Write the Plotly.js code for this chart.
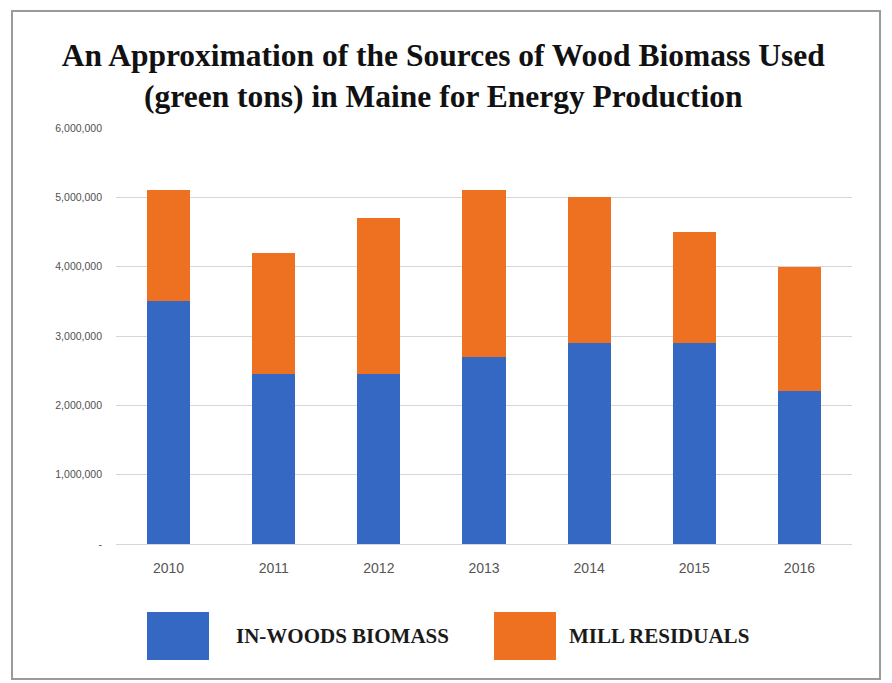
<!DOCTYPE html>
<html>
<head>
<meta charset="utf-8">
<script src="https://cdn.plot.ly/plotly-3.0.1.min.js"></script>
<style>
  html, body { margin: 0; padding: 0; background: #fff; }
  #wrap { position: relative; width: 892px; height: 683px; }
  #chart { width: 892px; height: 683px; }
  #frame { position: absolute; left: 11px; top: 10px; width: 870px; height: 670px;
           border: 2px solid #9a9a9a; pointer-events: none; box-sizing: border-box; }
</style>
</head>
<body>
<div id="wrap">
  <div id="chart"></div>
  <div id="frame"></div>
</div>
<script>
const years = ["2010", "2011", "2012", "2013", "2014", "2015", "2016"];
const inWoodsBiomass = [3500000, 2450000, 2450000, 2700000, 2900000, 2900000, 2200000];
const millResiduals = [1600000, 1750000, 2250000, 2400000, 2100000, 1600000, 1800000];
const seriesNames = ["IN-WOODS BIOMASS", "MILL RESIDUALS"];
const yTickVals = [0, 1000000, 2000000, 3000000, 4000000, 5000000, 6000000];
const yTickText = ["-", "1,000,000", "2,000,000", "3,000,000", "4,000,000", "5,000,000", "6,000,000"];

const blue = "#3468c2";
const orange = "#ee7121";

const traces = [
  { type: "bar", x: years, y: inWoodsBiomass, name: seriesNames[0], marker: { color: blue } },
  { type: "bar", x: years, y: millResiduals, name: seriesNames[1], marker: { color: orange } }
];

const legendFont = { family: "Liberation Serif, Times New Roman, serif", size: 21, color: "#1a1a1a" };

const layout = {
  width: 892, height: 683,
  barmode: "stack",
  bargap: 0.59,
  showlegend: false,
  paper_bgcolor: "#fff",
  plot_bgcolor: "#fff",
  margin: { l: 116, r: 40, t: 128, b: 139 },
  title: {
    text: "<b>An Approximation of the Sources of Wood Biomass Used<br>(green tons) in Maine for Energy Production</b>",
    font: { family: "Liberation Serif, Times New Roman, serif", size: 31.5, color: "#111" },
    x: 0.497, xref: "container", xanchor: "center",
    y: 1 - 66 / 683, yref: "container", yanchor: "top"
  },
  xaxis: {
    tickfont: { family: "Liberation Sans, Arial, sans-serif", size: 14, color: "#555" },
    showgrid: false, zeroline: false, showline: false, ticks: "", ticklabelstandoff: 14
  },
  yaxis: {
    range: [0, 6000000],
    tickvals: yTickVals, ticktext: yTickText,
    tickfont: { family: "Liberation Sans, Arial, sans-serif", size: 10.5, color: "#505050" },
    showgrid: true, gridcolor: "#d6d6d6", gridwidth: 1,
    zeroline: true, zerolinecolor: "#d6d6d6", showline: false, ticks: "", ticklabelstandoff: 13
  },
  shapes: [
    { type: "rect", xref: "paper", yref: "paper", x0: (147 - 116) / 736, x1: (209 - 116) / 736,
      y0: -(612 - 544) / 416, y1: -(660 - 544) / 416, fillcolor: blue, line: { width: 0 } },
    { type: "rect", xref: "paper", yref: "paper", x0: (494 - 116) / 736, x1: (556 - 116) / 736,
      y0: -(612 - 544) / 416, y1: -(660 - 544) / 416, fillcolor: orange, line: { width: 0 } }
  ],
  annotations: [
    { xref: "paper", yref: "paper", x: (234 - 116) / 736, y: -(636 - 544) / 416, xanchor: "left", yanchor: "middle",
      text: "<b>" + seriesNames[0] + "</b>", showarrow: false, font: legendFont },
    { xref: "paper", yref: "paper", x: (567 - 116) / 736, y: -(636 - 544) / 416, xanchor: "left", yanchor: "middle",
      text: "<b>" + seriesNames[1] + "</b>", showarrow: false, font: legendFont }
  ]
};

Plotly.newPlot("chart", traces, layout, { displayModeBar: false, staticPlot: true });
</script>
</body>
</html>
